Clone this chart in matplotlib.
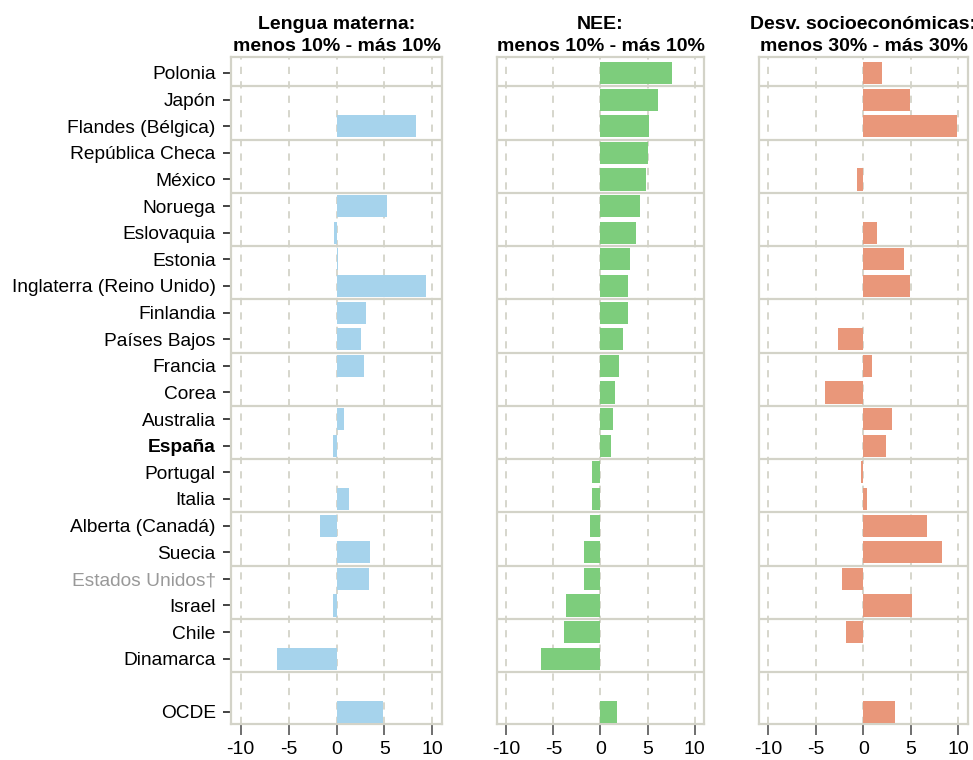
import numpy as np
import matplotlib.pyplot as plt

plt.rcParams['font.family'] = ['Liberation Sans', 'DejaVu Sans']

# data (nan = no value)
countries = ["Polonia", "Japón", "Flandes (Bélgica)", "República Checa", "México",
             "Noruega", "Eslovaquia", "Estonia", "Inglaterra (Reino Unido)", "Finlandia",
             "Países Bajos", "Francia", "Corea", "Australia", "España", "Portugal",
             "Italia", "Alberta (Canadá)", "Suecia", "Estados Unidos†", "Israel",
             "Chile", "Dinamarca", "OCDE"]
nan = np.nan
lengua = [nan, nan, 8.3, nan, nan, 5.3, -0.3, 0.2, 9.3, 3.1, 2.6, 2.9, nan, 0.8, -0.4,
          nan, 1.35, -1.7, 3.5, 3.4, -0.35, nan, -6.25, 4.8]
nee = [7.6, 6.1, 5.2, 5.1, 4.8, 4.2, 3.8, 3.1, 2.95, 2.95, 2.4, 2.0, 1.5, 1.35, 1.15,
       -0.85, -0.85, -1.15, -1.8, -1.8, -3.7, -3.9, -6.35, 1.8]
desv = [2.0, 4.9, 9.8, nan, -0.65, nan, 1.4, 4.3, 4.9, nan, -2.7, 0.85, -4.05, 3.0, 2.35,
        -0.3, 0.4, 6.7, 8.3, -2.25, 5.1, -1.8, nan, 3.3]

titles = ["Lengua materna:\nmenos 10% - más 10%",
          "NEE:\nmenos 10% - más 10%",
          "Desv. socioeconómicas:\nmenos 30% - más 30%"]
colors = ["#a6d3ec", "#7dcd7c", "#e9977a"]
series = [lengua, nee, desv]

frame = "#d3d3c8"
ypos = list(range(len(countries) - 1)) + [len(countries)]  # blank row before OCDE

fig = plt.figure(figsize=(9.73, 7.6), dpi=100)
lefts = [0.2374, 0.5108, 0.780]
widths = [0.2169, 0.2127, 0.2148]

for i in range(3):
    ax = fig.add_axes([lefts[i], 0.0474, widths[i], 0.8776])
    vals = np.array(series[i], dtype=float)
    ax.barh(ypos, np.nan_to_num(vals), height=0.83, color=colors[i], zorder=3)
    ax.set_xlim(-11, 11)
    ax.set_ylim(24.45, -0.6)
    for x in [-10, -5, 0, 5, 10]:
        ax.axvline(x, color=frame, lw=1.3, ls=(0, (4, 4)), zorder=1)
    for y in np.arange(0.5, 23, 2):
        ax.axhline(y, color=frame, lw=1.6, zorder=2)
    for s in ax.spines.values():
        s.set_color(frame)
        s.set_linewidth(1.6)
    ax.set_xticks([-10, -5, 0, 5, 10])
    ax.set_xticklabels(["-10", "-5", "0", "5", "10"], fontsize=14)
    ax.tick_params(axis='x', length=8, width=1.2, color="#555555", pad=4)
    ax.set_title(titles[i], fontsize=14, fontweight='bold', linespacing=1.4, pad=4)
    if i == 0:
        ax.set_yticks(ypos)
        ax.set_yticklabels(countries, fontsize=13.8)
        ax.tick_params(axis='y', length=6, width=1.2, color="#222222", pad=5)
        for lab in ax.get_yticklabels():
            if lab.get_text() == "España":
                lab.set_fontweight('bold')
            if lab.get_text() == "Estados Unidos†":
                lab.set_color("#999999")
    else:
        ax.set_yticks([])

fig.savefig("out.png", dpi=100)
